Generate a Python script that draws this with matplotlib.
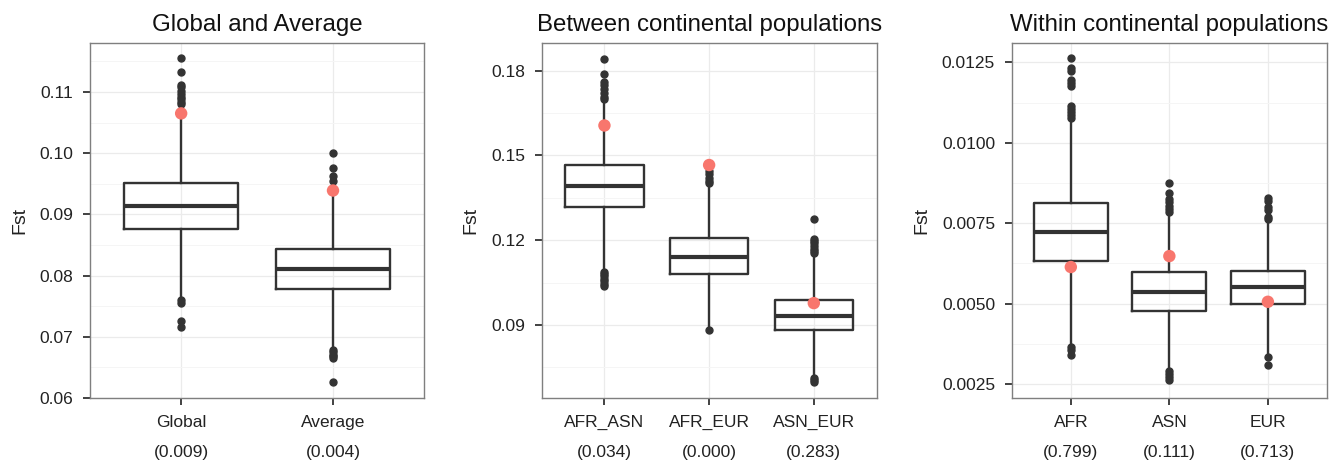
import matplotlib.pyplot as plt
from matplotlib.ticker import MultipleLocator, FormatStrFormatter

plt.rcParams['font.family'] = ['Liberation Sans', 'DejaVu Sans']

# panel 1: Global and Average
p1_labels = ['Global', 'Average']
p1_pvals = ['0.009', '0.004']
p1_q1 = [0.0876, 0.0778]
p1_med = [0.0914, 0.0810]
p1_q3 = [0.0951, 0.0843]
p1_lo = [0.0765, 0.0680]
p1_hi = [0.1063, 0.0938]
p1_fliers = [
    [0.1155, 0.1133, 0.1112, 0.1108, 0.1102, 0.1096, 0.1092, 0.1088, 0.1084, 0.1080,
     0.0760, 0.0756, 0.0726, 0.0716],
    [0.1001, 0.0976, 0.0962, 0.0955, 0.0679, 0.0675, 0.0671, 0.0668, 0.0665, 0.0626],
]
p1_obs = [0.1065, 0.0939]

# panel 2: Between continental populations
p2_labels = ['AFR_ASN', 'AFR_EUR', 'ASN_EUR']
p2_pvals = ['0.034', '0.000', '0.283']
p2_q1 = [0.1316, 0.1079, 0.0881]
p2_med = [0.1391, 0.1142, 0.0933]
p2_q3 = [0.1467, 0.1208, 0.0989]
p2_lo = [0.1090, 0.0890, 0.0720]
p2_hi = [0.1690, 0.1400, 0.1150]
p2_fliers = [
    [0.1841, 0.1787, 0.1760, 0.1748, 0.1735, 0.1720, 0.1708, 0.1700,
     0.1088, 0.1080, 0.1072, 0.1064, 0.1055, 0.1046, 0.1037],
    [0.1445, 0.1435, 0.1420, 0.1410, 0.1402, 0.0883],
    [0.1274, 0.1205, 0.1198, 0.1190, 0.1180, 0.1170, 0.1160, 0.1155,
     0.0712, 0.0705, 0.0698],
]
p2_obs = [0.1606, 0.1466, 0.0977]

# panel 3: Within continental populations
p3_labels = ['AFR', 'ASN', 'EUR']
p3_pvals = ['0.799', '0.111', '0.713']
p3_q1 = [0.00634, 0.00477, 0.00500]
p3_med = [0.00722, 0.00537, 0.00551]
p3_q3 = [0.00812, 0.00598, 0.00603]
p3_lo = [0.00367, 0.00296, 0.00346]
p3_hi = [0.01075, 0.00778, 0.00757]
p3_fliers = [
    [0.01262, 0.01232, 0.01222, 0.01195, 0.01185, 0.01175, 0.01115, 0.01105, 0.01095,
     0.01085, 0.01078, 0.00365, 0.00355, 0.00342],
    [0.00875, 0.00845, 0.00825, 0.00815, 0.00805, 0.00795, 0.00785,
     0.00292, 0.00283, 0.00272, 0.00262],
    [0.00830, 0.00820, 0.00800, 0.00790, 0.00770, 0.00762, 0.00335, 0.00310],
]
p3_obs = [0.00614, 0.00648, 0.00506]

panels = [
    ('Global and Average', p1_labels, p1_pvals, p1_q1, p1_med, p1_q3, p1_lo, p1_hi,
     p1_fliers, p1_obs, (0.06, 0.118), 0.01, '%.2f'),
    ('Between continental populations', p2_labels, p2_pvals, p2_q1, p2_med, p2_q3,
     p2_lo, p2_hi, p2_fliers, p2_obs, (0.0641, 0.1898), 0.03, '%.2f'),
    ('Within continental populations', p3_labels, p3_pvals, p3_q1, p3_med, p3_q3,
     p3_lo, p3_hi, p3_fliers, p3_obs, (0.00207, 0.0131), 0.0025, '%.4f'),
]

rects = [
    [0.0672, 0.1385, 0.2493, 0.7684],
    [0.4042, 0.1385, 0.2500, 0.7684],
    [0.7550, 0.1385, 0.2353, 0.7684],
]

dark = '#333333'
red = '#F8766D'

fig = plt.figure(figsize=(13.4, 4.62), dpi=100)

for rect, (title, labels, pvals, q1, med, q3, lo, hi, fliers, obs, ylim, step, fmt) in zip(rects, panels):
    ax = fig.add_axes(rect)
    pos = list(range(1, len(labels) + 1))
    stats = []
    for i in range(len(labels)):
        stats.append({'q1': q1[i], 'med': med[i], 'q3': q3[i],
                      'whislo': lo[i], 'whishi': hi[i], 'fliers': fliers[i]})
    ax.bxp(stats, positions=pos, widths=0.75, showcaps=False, zorder=3,
           boxprops=dict(color=dark, linewidth=1.7),
           whiskerprops=dict(color=dark, linewidth=1.7),
           medianprops=dict(color=dark, linewidth=3.0),
           flierprops=dict(marker='o', markersize=5, markerfacecolor=dark,
                           markeredgecolor=dark, linestyle='none'))
    ax.scatter(pos, obs, s=80, color=red, zorder=5, edgecolors='none')

    ax.set_xlim(0.4, len(labels) + 0.6)
    ax.set_ylim(*ylim)
    ax.yaxis.set_major_locator(MultipleLocator(step))
    ax.yaxis.set_minor_locator(MultipleLocator(step / 2))
    ax.yaxis.set_major_formatter(FormatStrFormatter(fmt))
    ax.set_xticks(pos)
    ax.set_xticklabels([l + '\n(' + p + ')' for l, p in zip(labels, pvals)],
                       linespacing=2.3)
    ax.grid(True, which='major', color='#ebebeb', linewidth=0.9, zorder=0)
    ax.grid(True, which='minor', axis='y', color='#f5f5f5', linewidth=0.7, zorder=0)
    ax.set_axisbelow(True)
    ax.tick_params(axis='both', which='major', length=5, width=1.3, color=dark,
                   labelsize=12.5, labelcolor='#222222')
    ax.tick_params(axis='y', which='major', pad=7)
    ax.tick_params(axis='x', which='major', pad=7)
    ax.tick_params(axis='y', which='minor', length=0)
    for sp in ax.spines.values():
        sp.set_color('#7f7f7f')
        sp.set_linewidth(1.0)
    ax.set_ylabel('Fst', fontsize=14, color='#222222', labelpad=8)
    ax.set_title(title, fontsize=17.3, color='#111111', pad=9)

fig.savefig('out.png', dpi=100)
